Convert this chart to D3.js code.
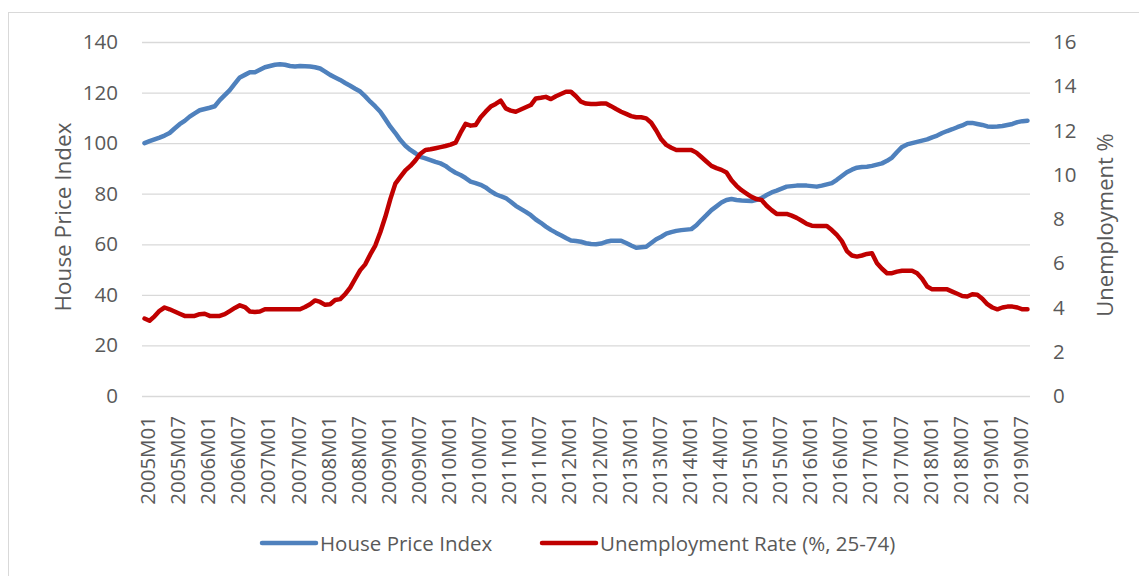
<!DOCTYPE html>
<html>
<head>
<meta charset="utf-8">
<script src="https://cdn.jsdelivr.net/npm/d3@7"></script>
<style>
  body { margin: 0; background: #fff; }
  svg text { font-family: 'Open Sans', sans-serif; fill: #595959; }
</style>
</head>
<body>
<svg id="chart" width="1139" height="576"></svg>
<script>
// monthly series, 2005M01 .. 2019M09
const years = d3.range(2005, 2020);
const months = years.flatMap(y => d3.range(1, 13).map(m => `${y}M${String(m).padStart(2, '0')}`)).slice(0, 177);

const housePrice = [
  100, 100.8, 101.5, 102.2, 103, 104, 105.8, 107.5, 108.8, 110.5, 111.8, 113,
  113.5, 114, 114.6, 117, 119, 121, 123.5, 126, 127, 128, 128, 129,
  130, 130.5, 131, 131.2, 131, 130.5, 130.3, 130.5, 130.4, 130.3, 130, 129.5,
  128.3, 127, 126, 125, 123.8, 122.7, 121.5, 120.4, 118.5, 116.4, 114.5, 112.4,
  109.5, 106.5, 104, 101.2, 99, 97.3, 96, 94.6, 94, 93.3, 92.6, 92,
  91, 89.5, 88.3, 87.4, 86.2, 84.8, 84.2, 83.5, 82.5, 81, 79.8, 79,
  78.3, 76.8, 75.2, 74, 72.8, 71.5, 69.8, 68.5, 67, 65.7, 64.6, 63.6,
  62.5, 61.5, 61.3, 61, 60.4, 60.1, 60, 60.3, 61, 61.4, 61.4, 61.4,
  60.5, 59.5, 58.6, 58.8, 59, 60.5, 62, 63, 64.2, 64.8, 65.3, 65.6,
  65.8, 66, 67.5, 69.6, 71.5, 73.5, 75, 76.5, 77.5, 77.9, 77.5, 77.3,
  77.2, 77.1, 77.6, 78.3, 79.5, 80.5, 81.2, 82, 82.8, 83, 83.2, 83.2,
  83.2, 83, 82.8, 83.2, 83.7, 84.2, 85.5, 87, 88.5, 89.5, 90.3, 90.6,
  90.7, 91, 91.5, 92, 93, 94.3, 96.5, 98.5, 99.5, 100, 100.5, 101,
  101.5, 102.3, 103, 104, 104.8, 105.5, 106.3, 107, 108, 108, 107.6, 107.2,
  106.6, 106.5, 106.6, 106.8, 107.2, 107.6, 108.3, 108.7, 108.9
];

const unemployment = [
  3.5, 3.4, 3.6, 3.85, 4.0, 3.92, 3.82, 3.72, 3.62, 3.62, 3.62, 3.7,
  3.72, 3.62, 3.62, 3.62, 3.7, 3.84, 3.98, 4.1, 4.02, 3.82, 3.8, 3.82,
  3.92, 3.92, 3.92, 3.92, 3.92, 3.92, 3.92, 3.92, 4.02, 4.15, 4.32, 4.25,
  4.12, 4.15, 4.34, 4.38, 4.6, 4.9, 5.3, 5.69, 5.95, 6.4, 6.8, 7.4,
  8.1, 8.9, 9.6, 9.9, 10.2, 10.4, 10.65, 10.95, 11.12, 11.15, 11.2, 11.25,
  11.3, 11.36, 11.45, 11.9, 12.3, 12.22, 12.25, 12.6, 12.85, 13.08, 13.2, 13.35,
  13.0, 12.9, 12.85, 12.95, 13.05, 13.15, 13.45, 13.48, 13.52, 13.42, 13.55, 13.65,
  13.75, 13.75, 13.55, 13.3, 13.22, 13.2, 13.2, 13.22, 13.22, 13.1, 12.97, 12.85,
  12.75, 12.65, 12.6, 12.6, 12.55, 12.35, 12.0, 11.6, 11.35, 11.22, 11.12, 11.12,
  11.12, 11.12, 11.0, 10.8, 10.6, 10.4, 10.3, 10.22, 10.1, 9.75, 9.5, 9.3,
  9.15, 9.0, 8.9, 8.86, 8.6, 8.4, 8.23, 8.23, 8.23, 8.15, 8.05, 7.92,
  7.78, 7.7, 7.68, 7.68, 7.68, 7.5, 7.28, 7.0, 6.55, 6.35, 6.3, 6.35,
  6.42, 6.45, 6.0, 5.75, 5.55, 5.55, 5.62, 5.66, 5.66, 5.66, 5.55, 5.3,
  4.95, 4.82, 4.82, 4.82, 4.82, 4.72, 4.62, 4.52, 4.5, 4.6, 4.58, 4.4,
  4.15, 4.0, 3.92, 4.0, 4.04, 4.04, 4.0, 3.92, 3.92
];

const leftTicks = d3.range(0, 141, 20);
const rightTicks = d3.range(0, 17, 2);
const seriesNames = ['House Price Index', 'Unemployment Rate (%, 25-74)'];
const seriesColors = ['#4f81bd', '#c00000'];

const svg = d3.select('#chart');
const margin = { top: 42, right: 109, bottom: 180, left: 142 };
const width = 1139 - margin.left - margin.right;
const height = 576 - margin.top - margin.bottom;
const fontSize = '20.5px';

// chart frame, only the top and left edges are inside the picture
svg.append('rect')
  .attr('x', 8.5).attr('y', 12.5)
  .attr('width', 1200).attr('height', 700)
  .attr('fill', 'none').attr('stroke', '#d9d9d9');

const g = svg.append('g').attr('transform', `translate(${margin.left},${margin.top})`);

const x = d3.scalePoint().domain(months).range([0, width]).padding(0.5);
const yLeft = d3.scaleLinear().domain([0, 140]).range([height, 0]);
const yRight = d3.scaleLinear().domain([0, 16]).range([height, 0]);

// gridlines
g.append('g')
  .call(d3.axisLeft(yLeft).tickValues(leftTicks).tickSize(-width).tickFormat(''))
  .call(sel => sel.select('.domain').remove())
  .selectAll('line').attr('stroke', '#d9d9d9').attr('stroke-width', 1.3);

// left axis labels
g.append('g')
  .call(d3.axisLeft(yLeft).tickValues(leftTicks).tickSize(0).tickPadding(24))
  .call(sel => sel.select('.domain').remove())
  .selectAll('text').style('font-size', fontSize).attr('fill', '#595959');

// right axis labels
g.append('g')
  .attr('transform', `translate(${width},0)`)
  .call(d3.axisRight(yRight).tickValues(rightTicks).tickSize(0).tickPadding(23))
  .call(sel => sel.select('.domain').remove())
  .selectAll('text').style('font-size', fontSize).attr('fill', '#595959');

// category labels every 6 months
const xAxis = g.append('g')
  .attr('transform', `translate(0,${height})`)
  .call(d3.axisBottom(x).tickValues(months.filter((d, i) => i % 6 === 0)).tickSize(0))
  .call(sel => sel.select('.domain').remove());
xAxis.selectAll('text')
  .style('font-size', fontSize)
  .attr('fill', '#595959')
  .attr('text-anchor', 'end')
  .attr('dy', null)
  .attr('dominant-baseline', 'central')
  .attr('transform', 'translate(2,20) rotate(-90)')
  .attr('x', 0).attr('y', 0);

// axis titles
svg.append('text')
  .attr('transform', `translate(62,${margin.top + height / 2 - 2}) rotate(-90)`)
  .attr('text-anchor', 'middle').attr('dominant-baseline', 'central')
  .style('font-size', '22.5px')
  .text('House Price Index');
svg.append('text')
  .attr('transform', `translate(1104,${margin.top + height / 2 + 6}) rotate(-90)`)
  .attr('text-anchor', 'middle').attr('dominant-baseline', 'central')
  .style('font-size', '22px')
  .text('Unemployment %');

// lines
const lineLeft = d3.line().x((d, i) => x(months[i])).y(d => yLeft(d));
const lineRight = d3.line().x((d, i) => x(months[i])).y(d => yRight(d));

g.append('path')
  .datum(housePrice)
  .attr('d', lineLeft)
  .attr('fill', 'none')
  .attr('stroke', seriesColors[0])
  .attr('stroke-width', 4.5)
  .attr('stroke-linejoin', 'round')
  .attr('stroke-linecap', 'round');

g.append('path')
  .datum(unemployment)
  .attr('d', lineRight)
  .attr('fill', 'none')
  .attr('stroke', seriesColors[1])
  .attr('stroke-width', 4.5)
  .attr('stroke-linejoin', 'round')
  .attr('stroke-linecap', 'round');

// legend
const legendX = [262, 542];
const legend = svg.append('g').attr('transform', 'translate(0,543)');
const item = legend.selectAll('g')
  .data(seriesNames)
  .join('g')
  .attr('transform', (d, i) => `translate(${legendX[i]},0)`);
item.append('line')
  .attr('x1', 0).attr('x2', 54)
  .attr('stroke', (d, i) => seriesColors[i])
  .attr('stroke-width', 4.5)
  .attr('stroke-linecap', 'round');
item.append('text')
  .attr('x', 58)
  .attr('dominant-baseline', 'central')
  .style('font-size', fontSize)
  .text(d => d);
</script>
</body>
</html>
